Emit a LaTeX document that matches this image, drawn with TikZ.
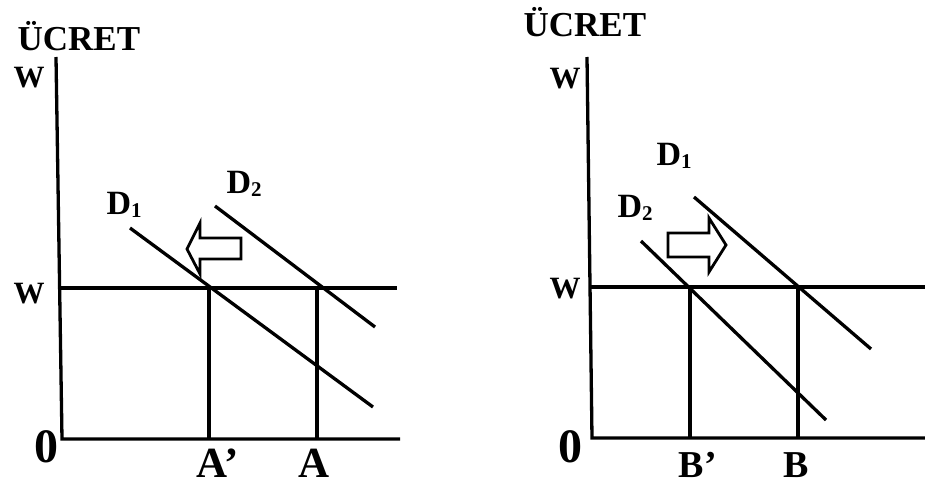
\documentclass[tikz,border=0pt]{standalone}
\usepackage{fontspec}
\setmainfont{Liberation Serif}
\newcommand{\dsub}[1]{\raisebox{-3pt}{\fontsize{21}{21}\selectfont #1}}
\begin{document}
\begin{tikzpicture}[x=1pt, y=-1pt, line width=3.3pt,
  axis/.style={line width=3.3pt},
  dline/.style={line width=3.3pt},
  shiftarrow/.style={line width=2.8pt, line join=miter, fill=white},
  lbl/.style={anchor=base west, inner sep=0pt, text depth=0pt, font=\bfseries\fontsize{31}{31}\selectfont},
  tlbl/.style={anchor=base west, inner sep=0pt, text depth=0pt, font=\bfseries\fontsize{35}{35}\selectfont},
  dlbl/.style={anchor=base west, inner sep=0pt, font=\bfseries\fontsize{34}{34}\selectfont},
  zlbl/.style={anchor=base west, inner sep=0pt, text depth=0pt, font=\bfseries\fontsize{48}{48}\selectfont},
  qlbl/.style={anchor=base west, inner sep=0pt, text depth=0pt, font=\bfseries\fontsize{43}{43}\selectfont}]
  \useasboundingbox (0,0) rectangle (925,487);

  % Left panel coordinates
  \coordinate (ltop) at (56,57);
  \coordinate (lo) at (62,439);
  \coordinate (lxend) at (400,439);
  \coordinate (lw) at (59.7,288);
  \coordinate (lwend) at (397,288);
  \coordinate (aprimetop) at (209,288);
  \coordinate (aprime) at (209,439);
  \coordinate (atop) at (317,288);
  \coordinate (a) at (317,439);
  \coordinate (ld1s) at (130,228);
  \coordinate (ld1e) at (373,407);
  \coordinate (ld2s) at (215,206);
  \coordinate (ld2e) at (375,327);

  % Right panel coordinates
  \coordinate (rtop) at (587,57);
  \coordinate (ro) at (592,438);
  \coordinate (rxend) at (925,438);
  \coordinate (rw) at (590,287);
  \coordinate (rwend) at (925,287);
  \coordinate (bprimetop) at (690,287);
  \coordinate (bprime) at (690,438);
  \coordinate (btop) at (798,287);
  \coordinate (b) at (798,438);
  \coordinate (rd1s) at (694,197);
  \coordinate (rd1e) at (871,349);
  \coordinate (rd2s) at (641,241);
  \coordinate (rd2e) at (826,420);

  % 1. Axes and wage line
  \draw[axis] (ltop) -- (lo) -- (lxend);
  \draw[axis] (lw) -- (lwend);
  \draw[axis] (rtop) -- (ro) -- (rxend);
  \draw[axis] (rw) -- (rwend);

  % 2. Employment drop lines
  \draw[axis] (aprimetop) -- (aprime);
  \draw[axis] (atop) -- (a);
  \draw[axis] (bprimetop) -- (bprime);
  \draw[axis] (btop) -- (b);

  % 3. Demand curves
  \draw[dline] (ld1s) -- (ld1e);
  \draw[dline] (ld2s) -- (ld2e);
  \draw[dline] (rd1s) -- (rd1e);
  \draw[dline] (rd2s) -- (rd2e);

  % 4. Shift arrows (hollow)
  \draw[shiftarrow] (187,249) -- (200,223) -- (200,238) -- (241,238) -- (241,259)
    -- (200,259) -- (200,274) -- cycle;
  \draw[shiftarrow] (726,245) -- (709,218) -- (709,233) -- (668,233) -- (668,257)
    -- (709,257) -- (709,272) -- cycle;

  % 5. Labels
  \node[tlbl] (lucret) at (16,50) {ÜCRET};
  \node[tlbl] (rucret) at (522,37) {ÜCRET};
  \node[lbl] (lwtop) at (12,87) {W};
  \node[lbl] (lwmid) at (12,303) {W};
  \node[lbl] (rwtop) at (548,88) {W};
  \node[lbl] (rwmid) at (548,298) {W};
  \node[zlbl] (lzero) at (33,462) {0};
  \node[zlbl] (rzero) at (557,462) {0};
  \node[qlbl] (lap) at (195,477) {A’};
  \node[qlbl] (la) at (297,477) {A};
  \node[qlbl, font=\bfseries\fontsize{38}{38}\selectfont] (rbp) at (677,477) {B’};
  \node[qlbl, font=\bfseries\fontsize{38}{38}\selectfont] (rb) at (782,477) {B};
  \node[dlbl] (ld1) at (105,214) {D\dsub{1}};
  \node[dlbl] (ld2) at (225,193) {D\dsub{2}};
  \node[dlbl] (rd1) at (655,165) {D\dsub{1}};
  \node[dlbl] (rd2) at (616,217) {D\dsub{2}};
\end{tikzpicture}
\end{document}
